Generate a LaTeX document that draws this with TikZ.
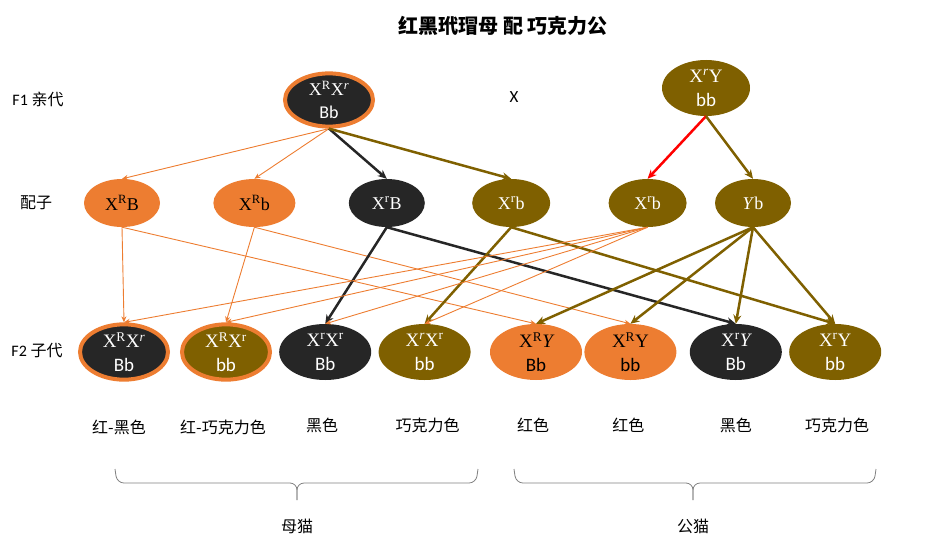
\documentclass[tikz,border=0pt]{standalone}
\usepackage{fontspec}
\setmainfont{Carlito}
\newfontfamily\cjk{Noto Sans CJK SC}
\newfontfamily\gfont{Liberation Serif}
\usetikzlibrary{positioning,arrows.meta,shapes.geometric}
\definecolor{CatOrange}{HTML}{ED7D31}
\definecolor{CatBlack}{HTML}{262626}
\definecolor{CatChoco}{HTML}{7F6000}
\definecolor{BraceGray}{HTML}{7F7F7F}

\begin{document}
\begin{tikzpicture}[x=1pt,y=-1pt,every node/.style={font=\fontsize{17}{20}\selectfont},
  cat/.style={ellipse,inner sep=0pt,minimum width=92pt,minimum height=56pt,align=center,font=\fontsize{19}{24}\selectfont},
  gamete/.style={ellipse,inner sep=0pt,minimum width=78pt,minimum height=48pt,font=\gfont\fontsize{18}{20}\selectfont},
  orangefill/.style={fill=CatOrange,text=black},
  blackfill/.style={fill=CatBlack,text=white},
  chocofill/.style={fill=CatChoco,text=white},
  ringed/.style={draw=CatOrange,line width=4pt,minimum width=88pt,minimum height=52pt},
  thinarrow/.style={draw=CatOrange,line width=0.9pt,-{Stealth[length=6pt,width=5pt]}},
  thickarrow/.style={line width=2.5pt,-{Stealth[length=9pt,width=8pt]}},
  bracelines/.style={BraceGray,line width=0.8pt,rounded corners=7pt},
  pheno/.style={font=\cjk\fontsize{16}{18}\selectfont,inner sep=0pt},
  rowlabel/.style={font=\fontsize{16}{18}\selectfont,inner sep=0pt}]
  \useasboundingbox (0,0) rectangle (936,551);

  \node[font=\cjk\bfseries\fontsize{20}{22}\selectfont] (title) at (503,26) {红黑玳瑁母 配 巧克力公};
  \node[rowlabel] (lf1) at (38,99) {F1 {\cjk 亲代}};
  \node[rowlabel] (lgam) at (36,203) {\cjk 配子};
  \node[rowlabel] (lf2) at (37,351) {F2 {\cjk 子代}};

  % parents
  \node[cat,blackfill,ringed,minimum height=44pt,font=\fontsize{18}{23}\selectfont] (mom) at (329,100) {{\gfont X\textsuperscript{R}X\textsuperscript{\itshape r}}\\Bb};
  \node (cross) at (514,97) {X};
  \node[cat,chocofill,minimum width=88pt] (dad) at (706,88) {{\gfont X\textsuperscript{\itshape r}Y}\\bb};

  % gametes
  \node[gamete,orangefill,minimum width=76pt] (gRB) at (122,203) {X\textsuperscript{R}B};
  \node[gamete,orangefill,minimum width=82pt,right=53pt of gRB] (gRb) {X\textsuperscript{R}b};
  \node[gamete,blackfill,minimum width=76pt,right=53pt of gRb] (grB) {X\textsuperscript{r}B};
  \node[gamete,chocofill,right=47pt of grB] (grb) {X\textsuperscript{r}b};
  \node[gamete,chocofill,right=58pt of grb] (srb) {X\textsuperscript{r}b};
  \node[gamete,chocofill,minimum width=76pt,right=28pt of srb] (sYb) {\textit{Y}b};

  % F2 offspring
  \node[cat,blackfill,ringed] (f1) at (124,352) {{\gfont X\textsuperscript{R}X\textsuperscript{\itshape r}}\\Bb};
  \node[cat,chocofill,ringed,right=10pt of f1] (f2) {{\gfont X\textsuperscript{R}X\textsuperscript{r}}\\bb};
  \node[cat,blackfill,right=7pt of f2] (f3) {{\gfont X\textsuperscript{r}X\textsuperscript{r}}\\Bb};
  \node[cat,chocofill,right=7pt of f3] (f4) {{\gfont X\textsuperscript{\itshape r}X\textsuperscript{r}}\\bb};
  \node[cat,orangefill,right=19pt of f4] (f5) {{\gfont X\textsuperscript{R}\itshape Y}\\Bb};
  \node[cat,orangefill,right=2pt of f5] (f6) {{\gfont X\textsuperscript{R}Y}\\bb};
  \node[cat,blackfill,right=13pt of f6] (f7) {{\gfont X\textsuperscript{r}\itshape Y}\\Bb};
  \node[cat,chocofill,right=7pt of f7] (f8) {{\gfont X\textsuperscript{r}Y}\\bb};

  % phenotypes
  \node[pheno,below=38pt of f1,xshift=-5pt] (p1) {红-黑色};
  \node[pheno,below=38pt of f2,xshift=-3pt] (p2) {红-巧克力色};
  \node[pheno,below=38pt of f3,xshift=-3pt] (p3) {黑色};
  \node[pheno,below=38pt of f4,xshift=3pt] (p4) {巧克力色};
  \node[pheno,below=38pt of f5,xshift=-3pt] (p5) {红色};
  \node[pheno,below=38pt of f6,xshift=-2pt] (p6) {红色};
  \node[pheno,below=38pt of f7] (p7) {黑色};
  \node[pheno,below=38pt of f8,xshift=2pt] (p8) {巧克力色};

  % parents to gametes
  \draw[thinarrow] (mom.south) -- (gRB.north);
  \draw[thinarrow] (mom.south) -- (gRb.north);
  \draw[thickarrow,CatBlack] (mom.south) -- (grB.north);
  \draw[thickarrow,CatChoco] (mom.south) -- (grb.north);
  \draw[thickarrow,red] (dad.south) -- (srb.north);
  \draw[thickarrow,CatChoco] (dad.south) -- (sYb.north);

  % gametes to offspring
  \draw[thinarrow] (gRB.south) -- (f1.north);
  \draw[thinarrow] (gRB.south) -- (f5.north);
  \draw[thinarrow] (gRb.south) -- (f2.north);
  \draw[thinarrow] (gRb.south) -- (f6.north);
  \draw[thickarrow,CatBlack] (grB.south) -- (f3.north);
  \draw[thickarrow,CatBlack] (grB.south) -- (f7.north);
  \draw[thickarrow,CatChoco] (grb.south) -- (f4.north);
  \draw[thickarrow,CatChoco] (grb.south) -- (f8.north);
  \draw[thinarrow] (srb.south) -- (f1.north);
  \draw[thinarrow] (srb.south) -- (f2.north);
  \draw[thinarrow] (srb.south) -- (f3.north);
  \draw[thinarrow] (srb.south) -- (f4.north);
  \draw[thickarrow,CatChoco] (sYb.south) -- (f5.north);
  \draw[thickarrow,CatChoco] (sYb.south) -- (f6.north);
  \draw[thickarrow,CatChoco] (sYb.south) -- (f7.north);
  \draw[thickarrow,CatChoco] (sYb.south) -- (f8.north);

  % braces
  \coordinate (ftip) at (297,500);
  \coordinate (mtip) at (693,500);
  \draw[bracelines] (115,469) -- (117,483) -- (297,483) -- (ftip);
  \draw[bracelines] (478,469) -- (476,483) -- (297,483) -- (ftip);
  \draw[bracelines] (514,469) -- (516,483) -- (693,483) -- (mtip);
  \draw[bracelines] (876,469) -- (874,483) -- (693,483) -- (mtip);
  \node[pheno] (female) at (297,526) {母猫};
  \node[pheno] (male) at (693,526) {公猫};
\end{tikzpicture}
\end{document}
